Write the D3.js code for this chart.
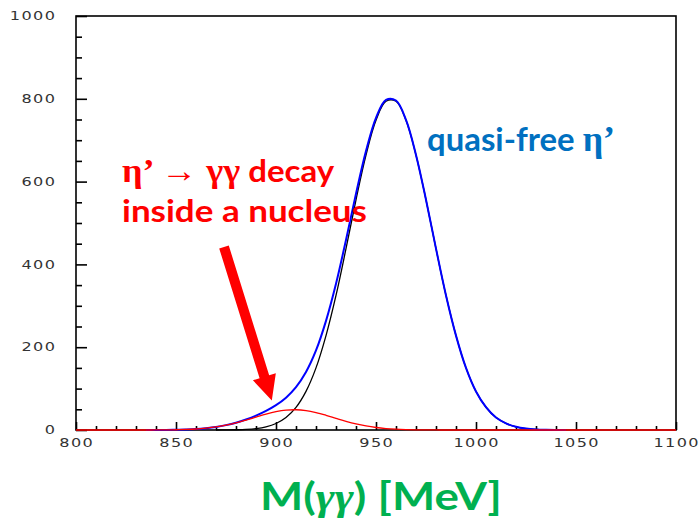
<!DOCTYPE html>
<html><head><meta charset="utf-8">
<script src="https://cdn.jsdelivr.net/npm/d3@7"></script>
<style>body{margin:0;background:#fff}svg{display:block}</style>
</head><body><svg id="c" width="700" height="521"></svg>
<script>
// ---- data ----
const masses = [800,805,810,815,820,825,830,835,840,845,850,855,860,865,870,875,880,885,890,895,
  900,905,910,915,920,925,930,935,940,945,950,955,960,965,970,975,980,985,990,995,
  1000,1005,1010,1015,1020,1025,1030,1035,1040,1045,1050,1055,1060,1065,1070,1075,1080,1085,1090,1095,1100];
const quasiFree = [0,0,0,0,0,0,0,0,0,0,0,0,0,0,0,
  0.2,0.6,1.5,3.5,7.7,15.7,30.1,54.6,93.3,150,228,325,438,556,664,748,794,794,748,664,556,438,325,228,150,93,55,30,16,7.7,3.5,1.5,0.6,0.2,
  0,0,0,0,0,0,0,0,0,0,0,0];
const inNucleus = [0,0,0,0,0,0,0,0,
  0.1,0.3,0.6,1.3,2.4,4.4,7.3,11.6,17.1,23.9,31.2,38.4,44.3,48.0,48.9,46.8,42.1,35.6,28.2,21.0,14.7,9.7,6.0,3.5,1.9,1.0,0.5,0.2,0.1,
  0,0,0,0,0,0,0,0,0,0,0,0,0,0,0,0,0,0,0,0,0,0,0,0];
const total = [0,0,0,0,0,0,0,0,
  0.1,0.3,0.6,1.3,2.4,4.4,7.3,11.8,17.7,25.4,34.7,46.1,60.0,78.1,103.5,140.1,192.1,263.6,353.2,459,570.7,673.7,754,797.5,795.9,749,664.5,556.2,438.1,325,228,150,93,55,30,16,7.7,3.5,1.5,0.6,0.2,
  0,0,0,0,0,0,0,0,0,0,0,0];
const xTickLabels = [800,850,900,950,1000,1050,1100];
const yTickLabels = [0,200,400,600,800,1000];
const xMinorTicks = [810,820,830,840,860,870,880,890,910,920,930,940,960,970,980,990,1010,1020,1030,1040,1060,1070,1080,1090];
const yMinorTicks = [50,100,150,250,300,350,450,500,550,650,700,750,850,900,950];
const arrowTail = [874, 442], arrowTip = [897.9, 71];

// ---- layout ----
const svg = d3.select("#c");
const x = d3.scaleLinear().domain([800,1100]).range([76,676]);
const y = d3.scaleLinear().domain([0,1000]).range([430,16]);

// ticks (inward)
function tickAxis(axis, vals, size, tr){
  const g = svg.append("g").attr("transform", tr)
    .call(axis.tickValues(vals).tickSize(size).tickFormat(""));
  g.select(".domain").remove();
  g.selectAll("line").attr("stroke","#000").attr("stroke-width",1.6);
}
tickAxis(d3.axisBottom(x), xTickLabels, -8, "translate(0,430)");
tickAxis(d3.axisBottom(x), xMinorTicks, -4, "translate(0,430)");
tickAxis(d3.axisLeft(y), yTickLabels, -11, "translate(76,0)");
tickAxis(d3.axisLeft(y), yMinorTicks, -6, "translate(76,0)");

// frame
svg.append("rect").attr("x",76).attr("y",16).attr("width",600).attr("height",414)
  .attr("fill","none").attr("stroke","#000").attr("stroke-width",1.6);

// tick labels (wide font)
const LS = 1.0, SX = 1.4;
xTickLabels.forEach(v=>{
  svg.append("text").text(v)
    .attr("transform",`translate(${x(v)+LS*SX/2},446.5) scale(${SX},1)`)
    .attr("text-anchor","middle").attr("font-family","DejaVu Sans").attr("font-size",11.5)
    .attr("letter-spacing",LS).attr("fill","#333");
});
yTickLabels.forEach(v=>{
  svg.append("text").text(v)
    .attr("transform",`translate(${55+LS*SX},${y(v)+4.2}) scale(${SX},1)`)
    .attr("text-anchor","end").attr("font-family","DejaVu Sans").attr("font-size",11.5)
    .attr("letter-spacing",LS).attr("fill","#333");
});

// curves
function trimmed(vals){
  let a = vals.findIndex(v=>v>0), b = vals.length-1 - [...vals].reverse().findIndex(v=>v>0);
  a = Math.max(0,a-1); b = Math.min(vals.length-1,b+1);
  return d3.range(a,b+1).map(i=>[masses[i], vals[i]]);
}
const line = d3.line().x(d=>x(d[0])).y(d=>y(d[1])).curve(d3.curveCatmullRom.alpha(0.5));
svg.append("path").attr("d", line(trimmed(quasiFree))).attr("fill","none").attr("stroke","#000").attr("stroke-width",1.3);
svg.append("path").attr("d", line(trimmed(total))).attr("fill","none").attr("stroke","#0000ff").attr("stroke-width",2);
svg.append("path").attr("d", line(masses.map((m,i)=>[m,inNucleus[i]]))).attr("fill","none").attr("stroke","#ff0000").attr("stroke-width",1.3);

// arrow
(function(){
  const p0=[x(arrowTail[0]),y(arrowTail[1])], p1=[x(arrowTip[0]),y(arrowTip[1])];
  const dx=p1[0]-p0[0], dy=p1[1]-p0[1], L=Math.hypot(dx,dy);
  const ux=dx/L, uy=dy/L, nx=-uy, ny=ux;
  const hl=25, hw=12, sw=5;
  const b=[p1[0]-ux*hl, p1[1]-uy*hl];
  const pts=[[p0[0]+nx*sw,p0[1]+ny*sw],[b[0]+nx*sw,b[1]+ny*sw],[b[0]+nx*hw,b[1]+ny*hw],p1,
    [b[0]-nx*hw,b[1]-ny*hw],[b[0]-nx*sw,b[1]-ny*sw],[p0[0]-nx*sw,p0[1]-ny*sw]];
  svg.append("polygon").attr("points",pts.map(p=>p.join(",")).join(" ")).attr("fill","#ff0000");
})();

// annotations
const SANS = "Lato, 'Open Sans', sans-serif", SERIF = "'Liberation Serif', 'DejaVu Serif', serif";
function fit(t, x0, y0, w){
  const bw = t.node().getBBox().width;
  t.attr("transform",`translate(${x0},${y0}) scale(${w/bw},1)`);
}
let t;
t = svg.append("text").attr("fill","#ff0000").attr("font-size",31);
t.append("tspan").attr("font-family",SERIF).attr("font-weight","bold").attr("font-size",34).text("η’ → γγ");
t.append("tspan").attr("font-family",SANS).attr("font-weight","bold").text(" decay");
fit(t,122,181.7,213);

t = svg.append("text").attr("fill","#ff0000").attr("font-size",31)
  .attr("font-family",SANS).attr("font-weight","bold").text("inside a nucleus");
fit(t,122,221.7,245);

t = svg.append("text").attr("fill","#0070c0").attr("font-size",33);
t.append("tspan").attr("font-family",SANS).attr("font-weight","bold").text("quasi-free ");
t.append("tspan").attr("font-family",SERIF).attr("font-weight","bold").attr("font-size",36).text("η’");
fit(t,427,151,188);

t = svg.append("text").attr("fill","#00b050").attr("font-size",38).attr("font-family",SANS).attr("font-weight","bold");
t.append("tspan").text("M(");
t.append("tspan").attr("font-family",SERIF).attr("font-style","italic").text("γγ");
t.append("tspan").text(") [MeV]");
fit(t,260,510,242);
</script></body></html>
